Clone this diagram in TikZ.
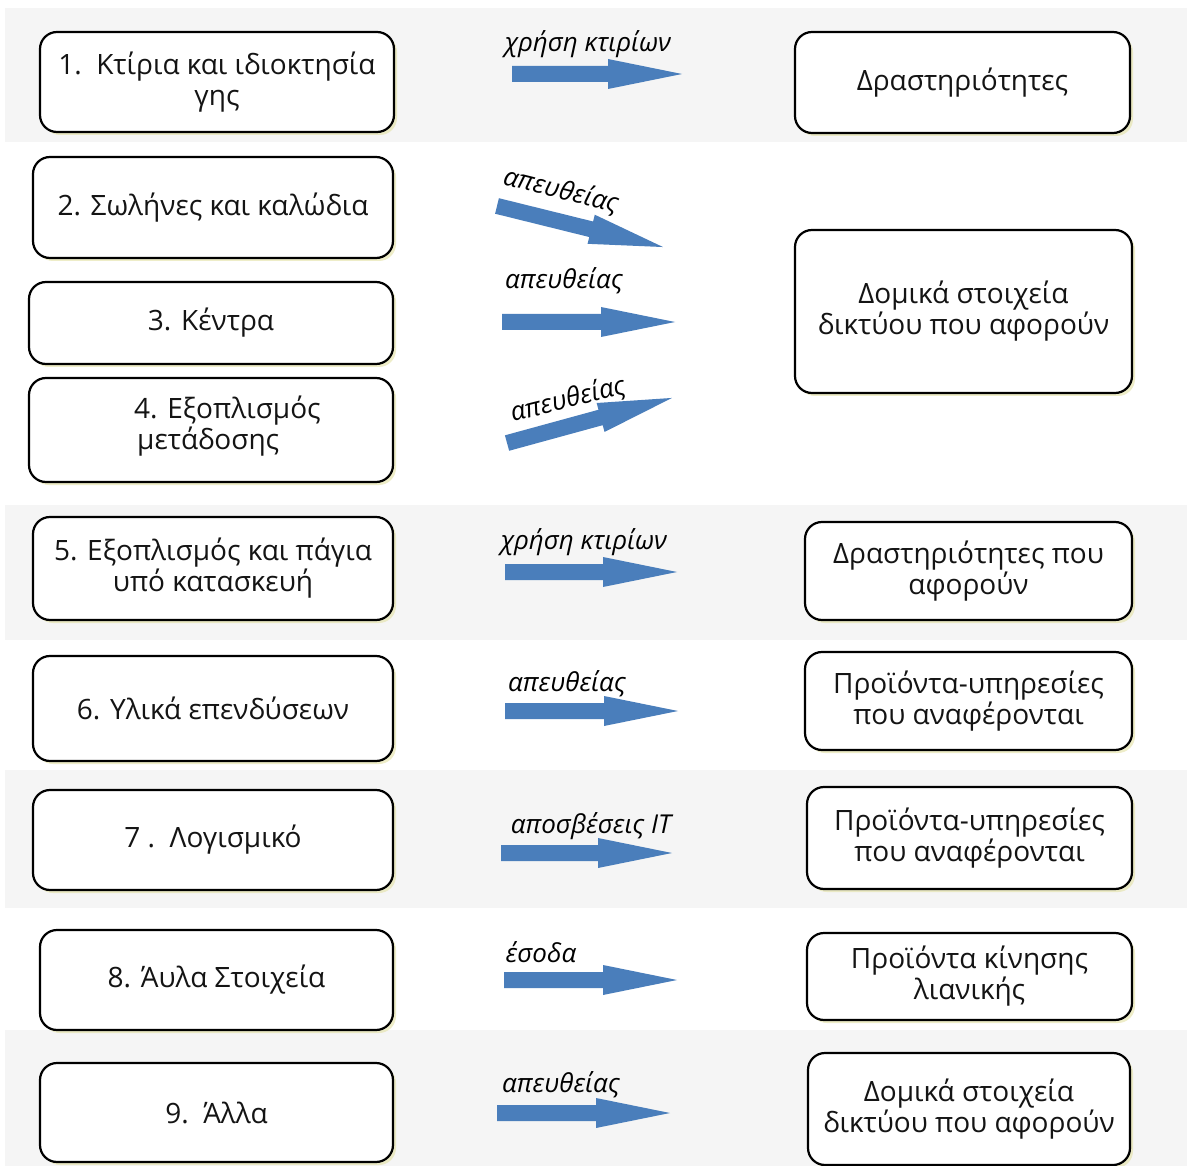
\documentclass[tikz,border=0pt]{standalone}
\usepackage{fontspec}
\setmainfont{Open Sans}
\newfontfamily\lblfont{Open Sans}
\usetikzlibrary{shadows}
\definecolor{bandgray}{RGB}{245,245,245}
\definecolor{arrowblue}{RGB}{74,126,187}
\definecolor{boxtext}{RGB}{20,20,20}
\newcommand{\blockarrow}[4]{%
  \begin{scope}[shift={(#1,#2)},rotate=#3]
    \fill[arrowblue] (-#4/2,-8) -- (#4/2-74,-8) -- (#4/2-74,-15) -- (#4/2,0)
      -- (#4/2-74,15) -- (#4/2-74,8) -- (-#4/2,8) -- cycle;
  \end{scope}}
\begin{document}
\begin{tikzpicture}[x=1pt,y=-1pt,
  box/.style={draw=black, line width=2.2pt, rounded corners=17pt, fill=white,
    align=center, font=\fontsize{28}{31}\selectfont, text=boxtext, inner sep=0pt,
    drop shadow={shadow xshift=3pt, shadow yshift=-3pt, fill=black!30!yellow!40!white, opacity=0.6}},
  lbl/.style={font=\lblfont\itshape\fontsize{26}{28}\selectfont, text=black, inner sep=0pt},
  btext/.style={align=left, font=\fontsize{28}{31}\selectfont, text=boxtext, inner sep=0pt}]
\useasboundingbox (0,0) rectangle (1187,1166);
\fill[white] (0,0) rectangle (1187,1166);
% bands
\fill[bandgray] (5,8) rectangle (1187,142);
\fill[bandgray] (5,505) rectangle (1187,640);
\fill[bandgray] (5,770) rectangle (1187,908);
\fill[bandgray] (5,1030) rectangle (1187,1166);
% left boxes
\node[box, minimum width=354, minimum height=100] (b1) at (217,82) {1.\ \ Κτίρια και ιδιοκτησία\\γης};
\node[box, minimum width=360, minimum height=101] (b2) at (213,207.5) {2. Σωλήνες και καλώδια};
\node[box, minimum width=364, minimum height=82] (b3) at (211,323) {3. Κέντρα};
\node[box, minimum width=364, minimum height=104] (b4) at (211,430) {};
\node[btext, anchor=west] (t4) at (134,426) {4. Εξοπλισμός\\\hspace*{3pt}μετάδοσης};
\node[box, minimum width=360, minimum height=103] (b5) at (213,568.5) {5. Εξοπλισμός και πάγια\\υπό κατασκευή};
\node[box, minimum width=360, minimum height=105] (b6) at (213,708.5) {6. Υλικά επενδύσεων};
\node[box, minimum width=360, minimum height=100] (b7) at (213,840) {7 .\ \ Λογισμικό};
\node[box, minimum width=353, minimum height=100] (b8) at (216.5,980) {8. Άυλα Στοιχεία};
\node[box, minimum width=353, minimum height=99] (b9) at (216.5,1112.5) {9.\ \ Άλλα};
% right boxes
\node[box, minimum width=335, minimum height=101] (r1) at (962.5,82.5) {Δραστηριότητες};
\node[box, minimum width=337, minimum height=163] (r2) at (963.5,311.5) {Δομικά στοιχεία\\δικτύου που αφορούν};
\node[box, minimum width=327, minimum height=98] (r5) at (968.5,571) {Δραστηριότητες που\\αφορούν};
\node[box, minimum width=327, minimum height=98] (r6) at (968.5,701) {Προϊόντα-υπηρεσίες\\που αναφέρονται};
\node[box, minimum width=325, minimum height=102] (r7) at (969.5,838) {Προϊόντα-υπηρεσίες\\που αναφέρονται};
\node[box, minimum width=325, minimum height=87] (r8) at (969.5,976.5) {Προϊόντα κίνησης\\λιανικής};
\node[box, minimum width=322, minimum height=112] (r9) at (969,1109) {Δομικά στοιχεία\\δικτύου που αφορούν};
% block arrows
\blockarrow{597}{74}{0}{170}
\blockarrow{580}{226.5}{-13.9}{171}
\blockarrow{588.5}{322}{0}{173}
\blockarrow{589.5}{420.5}{15.3}{171}
\blockarrow{591}{572}{0}{172}
\blockarrow{591.5}{711}{0}{173}
\blockarrow{586.5}{853}{0}{171}
\blockarrow{590.5}{980}{0}{173}
\blockarrow{583.5}{1113}{0}{173}
% labels
\node[lbl] (l1) at (588,44) {χρήση κτιρίων};
\node[lbl, rotate=-14] (l2) at (561,191) {απευθείας};
\node[lbl] (l3) at (564,281) {απευθείας};
\node[lbl, rotate=14] (l4) at (568,400) {απευθείας};
\node[lbl] (l5) at (584,542) {χρήση κτιρίων};
\node[lbl] (l6) at (567,684) {απευθείας};
\node[lbl] (l7) at (591,826) {αποσβέσεις IT};
\node[lbl] (l8) at (541,952) {έσοδα};
\node[lbl] (l9) at (561,1085) {απευθείας};
\end{tikzpicture}
\end{document}
